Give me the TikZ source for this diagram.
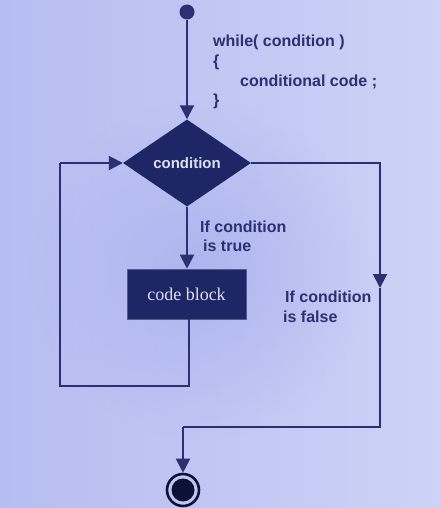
\documentclass[tikz,border=0pt]{standalone}
\usepackage{fontspec}
\setmainfont{Liberation Sans}
\newfontfamily\serifcb{Liberation Serif}
\usetikzlibrary{shapes.geometric,arrows.meta,fadings}
\tikzfading[name=softspot, inner color=transparent!0, outer color=transparent!100]
\definecolor{bgA}{HTML}{B6BDF1}
\definecolor{bgB}{HTML}{CDD2F6}
\definecolor{bgC}{HTML}{A9B1EE}
\definecolor{navy}{HTML}{2B3170}
\definecolor{boxfill}{HTML}{1E2666}
\definecolor{txtlight}{HTML}{DDE1F4}
\definecolor{enddark}{HTML}{0C1236}
\tikzset{
  conn/.style={draw=navy, line width=2pt},
  arr/.style={conn, -{Triangle[width=14pt,length=14pt]}},
  lbl/.style={font=\bfseries\fontsize{16}{19}\selectfont, text=navy, anchor=base west, inner sep=0pt},
}
\begin{document}
\begin{tikzpicture}[x=1pt,y=-1pt]
\useasboundingbox (0,0) rectangle (441,508);
\shade[left color=bgA, right color=bgB] (0,0) rectangle (441,508);
\fill[bgC, path fading=softspot, opacity=0.8] (200,270) circle (170);

% start
\node[circle, fill=navy, minimum size=15pt, inner sep=0pt] (start) at (187,12) {};
% decision
\node[diamond, fill=boxfill, minimum width=128pt, minimum height=87pt, aspect=1.47, inner sep=0pt,
      text=txtlight, font=\bfseries\fontsize{15}{18}\selectfont] (cond) at (187,163) {condition};
% code block
\node[rectangle, fill=boxfill, draw=navy!80, line width=0.6pt, minimum width=119pt, minimum height=50pt,
      text=txtlight, font=\serifcb\fontsize{18}{21}\selectfont] (block) at (186.5,294) {code block};
% end
\node[circle, draw=enddark, line width=2.6pt, minimum size=32pt, inner sep=0pt] (end) at (183,490) {};
\node[circle, fill=enddark, minimum size=23pt, inner sep=0pt] (endin) at (end.center) {};

% helper coordinates
\coordinate (loopB) at (189,386);
\coordinate (loopBL) at (60,386);
\coordinate (loopTL) at (60,163);
\coordinate (fa) at (380,288);
\coordinate (fb) at (380,427);
\coordinate (fc) at (183,427);

% connectors
\draw[arr] (start) -- (cond.north);
\draw[arr] (cond.south) -- (block.north -| cond.south);
\draw[conn] (block.south -| loopB) -- (loopB) -- (loopBL) -- (loopTL);
\draw[arr] (loopTL) -- (cond.west);
\draw[arr] (cond.east) -| (fa);
\draw[conn] (fa) -- (fb) -- (fc);
\draw[arr] (fc) -- (end.north);

% code text
\node[lbl] (w1) at (213,47) {while( condition )};
\node[lbl] (w2) at (213,67) {\{};
\node[lbl] (w3) at (240,87) {conditional code ;};
\node[lbl] (w4) at (213,106) {\}};

% branch labels
\node[lbl] (t1) at (200,232) {If condition};
\node[lbl] (t2) at (203,251) {is true};
\node[lbl] (f1) at (285,302) {If condition};
\node[lbl] (f2) at (283,322) {is false};
\end{tikzpicture}
\end{document}
